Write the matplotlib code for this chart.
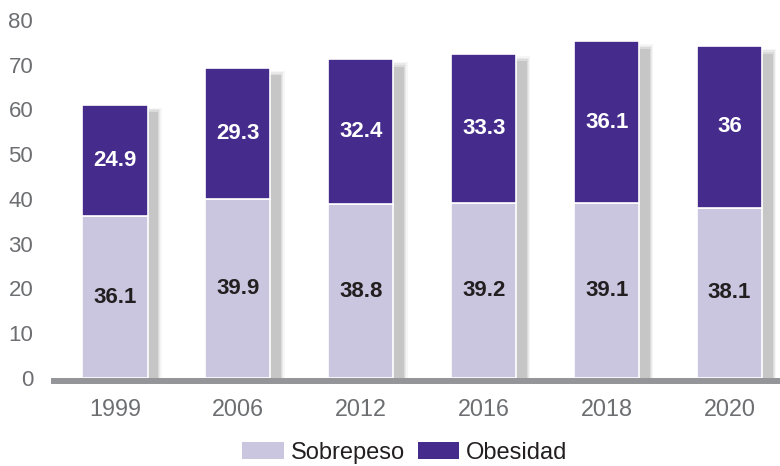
import matplotlib
matplotlib.use("Agg")
import matplotlib.pyplot as plt
from matplotlib.patches import Rectangle

years = ["1999", "2006", "2012", "2016", "2018", "2020"]
sobrepeso = [36.1, 39.9, 38.8, 39.2, 39.1, 38.1]
obesidad = [24.9, 29.3, 32.4, 33.3, 36.1, 36.0]
obesidad_labels = ["24.9", "29.3", "32.4", "33.3", "36.1", "36"]
sobrepeso_labels = ["36.1", "39.9", "38.8", "39.2", "39.1", "38.1"]
yticks = [0, 10, 20, 30, 40, 50, 60, 70, 80]

C_SOB = "#cbc6df"
C_OBE = "#452c8c"
C_AXIS = "#939598"
C_TICK = "#6d6e71"
C_TEXT = "#231f20"

plt.rcParams["font.family"] = ["Liberation Sans", "DejaVu Sans"]

W, H = 780, 466
fig = plt.figure(figsize=(W / 100, H / 100), dpi=100)
ax = fig.add_axes([54 / W, 88 / H, 726 / W, 358 / H])

x = list(range(len(years)))
bw = 0.53
totals = [s + o for s, o in zip(sobrepeso, obesidad)]

# soft drop shadows
layers = [(0.115, 0.0, 0.15), (0.105, 0.3, 0.25), (0.095, 0.6, 0.4), (0.085, 1.0, 1.0)]
for xi, t in zip(x, totals):
    for dx, dy, a in layers:
        ax.add_patch(Rectangle((xi - bw / 2 + dx, 0), bw, t - 0.6 - dy,
                               facecolor="#c6c6c6", edgecolor="none",
                               alpha=a, zorder=1))

ax.bar(x, sobrepeso, bw, color=C_SOB, edgecolor="white", linewidth=1.2, zorder=2,
       label="Sobrepeso")
ax.bar(x, obesidad, bw, bottom=sobrepeso, color=C_OBE, edgecolor="white",
       linewidth=1.2, zorder=2, label="Obesidad")

for xi, s, o, sl, ol in zip(x, sobrepeso, obesidad, sobrepeso_labels, obesidad_labels):
    ax.text(xi, s / 2, sl, ha="center", va="center", fontsize=16,
            fontweight="bold", color=C_TEXT, zorder=3)
    ax.text(xi, s + o / 2, ol, ha="center", va="center", fontsize=16,
            fontweight="bold", color="white", zorder=3)

ax.set_xlim(-0.496, 5.41)
ax.set_ylim(0, 80)
ax.set_yticks(yticks)
ax.set_xticks(x)
ax.set_xticklabels(years)
for sp in ["top", "right", "left"]:
    ax.spines[sp].set_visible(False)
ax.spines["bottom"].set_color(C_AXIS)
ax.spines["bottom"].set_linewidth(4.3)
ax.spines["bottom"].set_position(("outward", 2.2))
ax.spines["bottom"].set_zorder(4)
ax.tick_params(axis="y", length=0, pad=15, labelsize=16, labelcolor=C_TICK)
ax.tick_params(axis="x", length=0, pad=12, labelsize=16.8, labelcolor=C_TICK)

leg = fig.legend(loc="center", bbox_to_anchor=(405 / W, 1 - 453 / H), ncol=2,
                 frameon=False, fontsize=17, handlelength=1.75, handleheight=0.75,
                 handletextpad=0.3, columnspacing=0.55, borderaxespad=0,
                 borderpad=0)
for t in leg.get_texts():
    t.set_color(C_TEXT)
for h in leg.legend_handles:
    h.set_edgecolor("none")

fig.savefig("out.png", dpi=100)
